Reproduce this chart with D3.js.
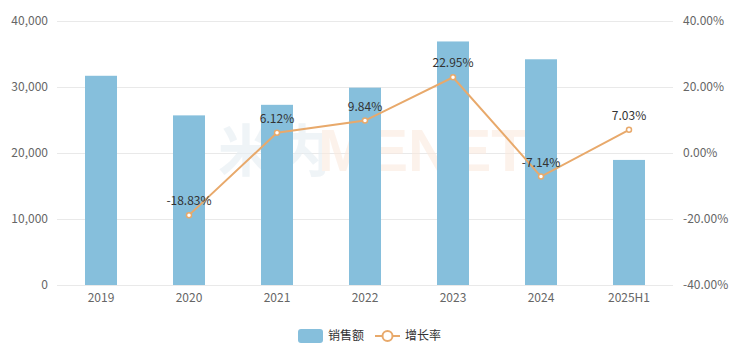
<!DOCTYPE html>
<html><head><meta charset="utf-8">
<script src="https://cdn.jsdelivr.net/npm/d3@7/dist/d3.min.js"></script>
<style>body{margin:0;background:#fff}svg{display:block;font-family:"Noto Sans CJK SC","Noto Sans",sans-serif}</style>
</head><body><svg id="c" width="741" height="357"></svg>
<script>
const categories = ["2019","2020","2021","2022","2023","2024","2025H1"];
const sales = [31700, 25700, 27300, 29900, 36900, 34200, 18950];
const growth = [null, -18.83, 6.12, 9.84, 22.95, -7.14, 7.03];
const leftTicks = [0, 10000, 20000, 30000, 40000];
const rightTicks = [-40, -20, 0, 20, 40];
const seriesNames = ["销售额", "增长率"];

const svg = d3.select("#c");
const m = {l:57, r:673, t:21, b:285};
const x = d3.scaleBand().domain(categories).range([m.l, m.r]);
const yL = d3.scaleLinear().domain([0, 40000]).range([m.b, m.t]);
const yR = d3.scaleLinear().domain([-40, 40]).range([m.b, m.t]);
const barColor = "#86BFDC", lineColor = "#E8A96B";

// grid
svg.append("g").selectAll("line").data(leftTicks).join("line")
  .attr("x1", m.l).attr("x2", m.r).attr("y1", d=>yL(d)+0.5).attr("y2", d=>yL(d)+0.5)
  .attr("stroke", "#E9E9E9").attr("stroke-width", 1);

// watermark
const wm = svg.append("g").attr("opacity", 0.6);
wm.append("text").attr("x", 218).attr("y", 171).attr("font-size", 56).attr("font-weight", "bold")
  .attr("fill", "#E6EEF3").text("米内");
wm.append("text").attr("x", 318).attr("y", 171).attr("font-size", 60).attr("font-weight", "bold")
  .attr("font-family", "Liberation Sans, Arial, sans-serif")
  .attr("fill", "#FBEADF").text("MENET");

// bars
const bw = 32;
svg.append("g").selectAll("rect").data(sales).join("rect")
  .attr("x", (d,i)=>x(categories[i]) + x.bandwidth()/2 - bw/2)
  .attr("width", bw)
  .attr("y", d=>yL(d)).attr("height", d=>yL(0)-yL(d))
  .attr("fill", barColor);

// axis labels
const axisFont = "12px";
svg.append("g").selectAll("text").data(leftTicks).join("text")
  .attr("x", 48).attr("y", d=>yL(d)).attr("dy", "0.35em").attr("text-anchor", "end")
  .attr("font-size", axisFont).attr("fill", "#666").text(d=>d3.format(",")(d));
svg.append("g").selectAll("text").data(rightTicks).join("text")
  .attr("x", 683).attr("y", d=>yR(d)).attr("dy", "0.35em").attr("text-anchor", "start")
  .attr("font-size", axisFont).attr("fill", "#666").text(d=>d.toFixed(2)+"%");
svg.append("g").selectAll("text").data(categories).join("text")
  .attr("x", d=>x(d)+x.bandwidth()/2).attr("y", 302).attr("text-anchor", "middle")
  .attr("font-size", axisFont).attr("fill", "#666").text(d=>d);

// line
const pts = growth.map((g,i)=>({c:categories[i], g})).filter(d=>d.g!==null);
const line = d3.line().x(d=>x(d.c)+x.bandwidth()/2).y(d=>yR(d.g));
svg.append("path").datum(pts).attr("d", line).attr("fill","none")
  .attr("stroke", lineColor).attr("stroke-width", 2);
svg.append("g").selectAll("circle").data(pts).join("circle")
  .attr("cx", d=>x(d.c)+x.bandwidth()/2).attr("cy", d=>yR(d.g)).attr("r", 2.5)
  .attr("fill", "#fff").attr("stroke", lineColor).attr("stroke-width", 1.5);
svg.append("g").selectAll("text").data(pts).join("text")
  .attr("x", d=>x(d.c)+x.bandwidth()/2).attr("y", d=>yR(d.g)-10)
  .attr("text-anchor", "middle").attr("font-size", "12px").attr("fill", "#333")
  .text(d=>d.g.toFixed(2)+"%");

// legend
const lg = svg.append("g");
lg.append("rect").attr("x", 298).attr("y", 329).attr("width", 25).attr("height", 14).attr("rx", 3).attr("fill", barColor);
lg.append("text").attr("x", 328).attr("y", 336).attr("dy", "0.35em").attr("font-size", "12px").attr("fill", "#333").text(seriesNames[0]);
lg.append("line").attr("x1", 375).attr("x2", 400).attr("y1", 336).attr("y2", 336).attr("stroke", lineColor).attr("stroke-width", 2);
lg.append("circle").attr("cx", 387.5).attr("cy", 336).attr("r", 5).attr("fill", "#fff").attr("stroke", lineColor).attr("stroke-width", 2);
lg.append("text").attr("x", 405).attr("y", 336).attr("dy", "0.35em").attr("font-size", "12px").attr("fill", "#333").text(seriesNames[1]);
</script></body></html>
